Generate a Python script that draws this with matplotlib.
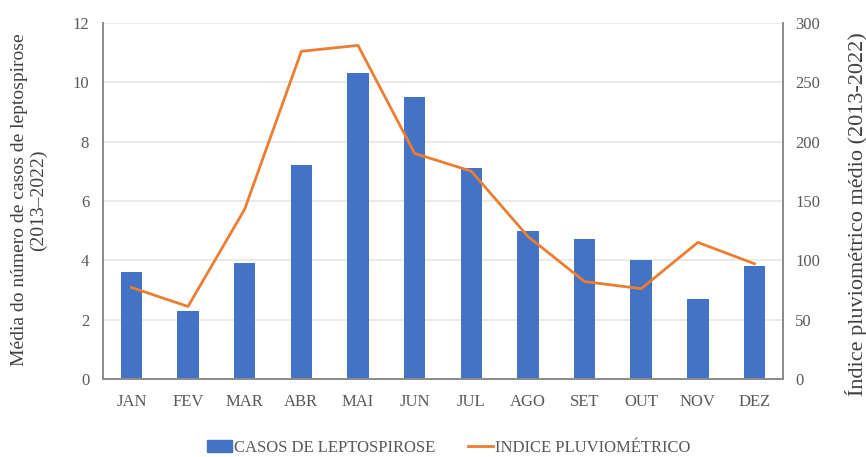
import numpy as np
import matplotlib.pyplot as plt
from matplotlib.patches import Patch
from matplotlib.lines import Line2D

plt.rcParams['font.family'] = ['Liberation Serif', 'DejaVu Serif']

# Data
meses = ['JAN', 'FEV', 'MAR', 'ABR', 'MAI', 'JUN', 'JUL', 'AGO', 'SET', 'OUT', 'NOV', 'DEZ']
casos = [3.6, 2.3, 3.9, 7.2, 10.3, 9.5, 7.1, 5.0, 4.7, 4.0, 2.7, 3.8]
chuva = [77, 61, 143, 276, 281, 190, 175, 120, 82, 76, 115, 97]

azul = '#4472C4'
laranja = '#ED7D31'
cinza = '#595959'
eixo = '#8c8c8c'

fig, ax = plt.subplots(figsize=(8.66, 4.57), dpi=100)
fig.subplots_adjust(left=0.119, right=0.904, top=0.950, bottom=0.171)

x = np.arange(len(meses))
ax.bar(x, casos, width=0.38, color=azul, zorder=2)
ax.set_xlim(-0.5, len(meses) - 0.5)
ax.set_ylim(0, 12)
ax.set_yticks(range(0, 13, 2))
ax.set_xticks(x)
ax.set_xticklabels(meses)
ax.grid(axis='y', color='#e6e6e6', linewidth=1.2, zorder=0)
ax.set_axisbelow(True)
ax.tick_params(axis='y', length=0, colors=cinza, labelsize=12, pad=10)
ax.tick_params(axis='x', length=0, colors=cinza, labelsize=12, pad=11)

ax2 = ax.twinx()
ax2.plot(x, chuva, color=laranja, linewidth=2, zorder=3)
ax2.set_ylim(0, 300)
ax2.set_yticks(range(0, 301, 50))
ax2.tick_params(length=0, colors=cinza, labelsize=12, pad=9)

for a in (ax, ax2):
    a.spines['top'].set_visible(False)
    for s in ('left', 'right', 'bottom'):
        a.spines[s].set_color(eixo)
        a.spines[s].set_linewidth(1.3)

fig.text(0.0335, 0.562, 'Média do número de casos de leptospirose\n(2013–2022)',
         rotation=90, ha='center', va='center', fontsize=14, color='#404040',
         linespacing=1.15)
fig.text(0.9885, 0.531, 'Índice pluviométrico médio (2013-2022)',
         rotation=90, ha='center', va='center', fontsize=16, color='#404040')

handles = [Patch(color=azul), Line2D([0], [0], color=laranja, linewidth=2)]
fig.legend(handles, ['CASOS DE LEPTOSPIROSE', 'INDICE PLUVIOMÉTRICO'],
           loc='center', bbox_to_anchor=(0.518, 0.02), ncol=2, frameon=False,
           fontsize=12, labelcolor=cinza, handlelength=1.5, handletextpad=0.1,
           columnspacing=2.0, borderpad=0.1)

fig.savefig('out.png', dpi=100)
